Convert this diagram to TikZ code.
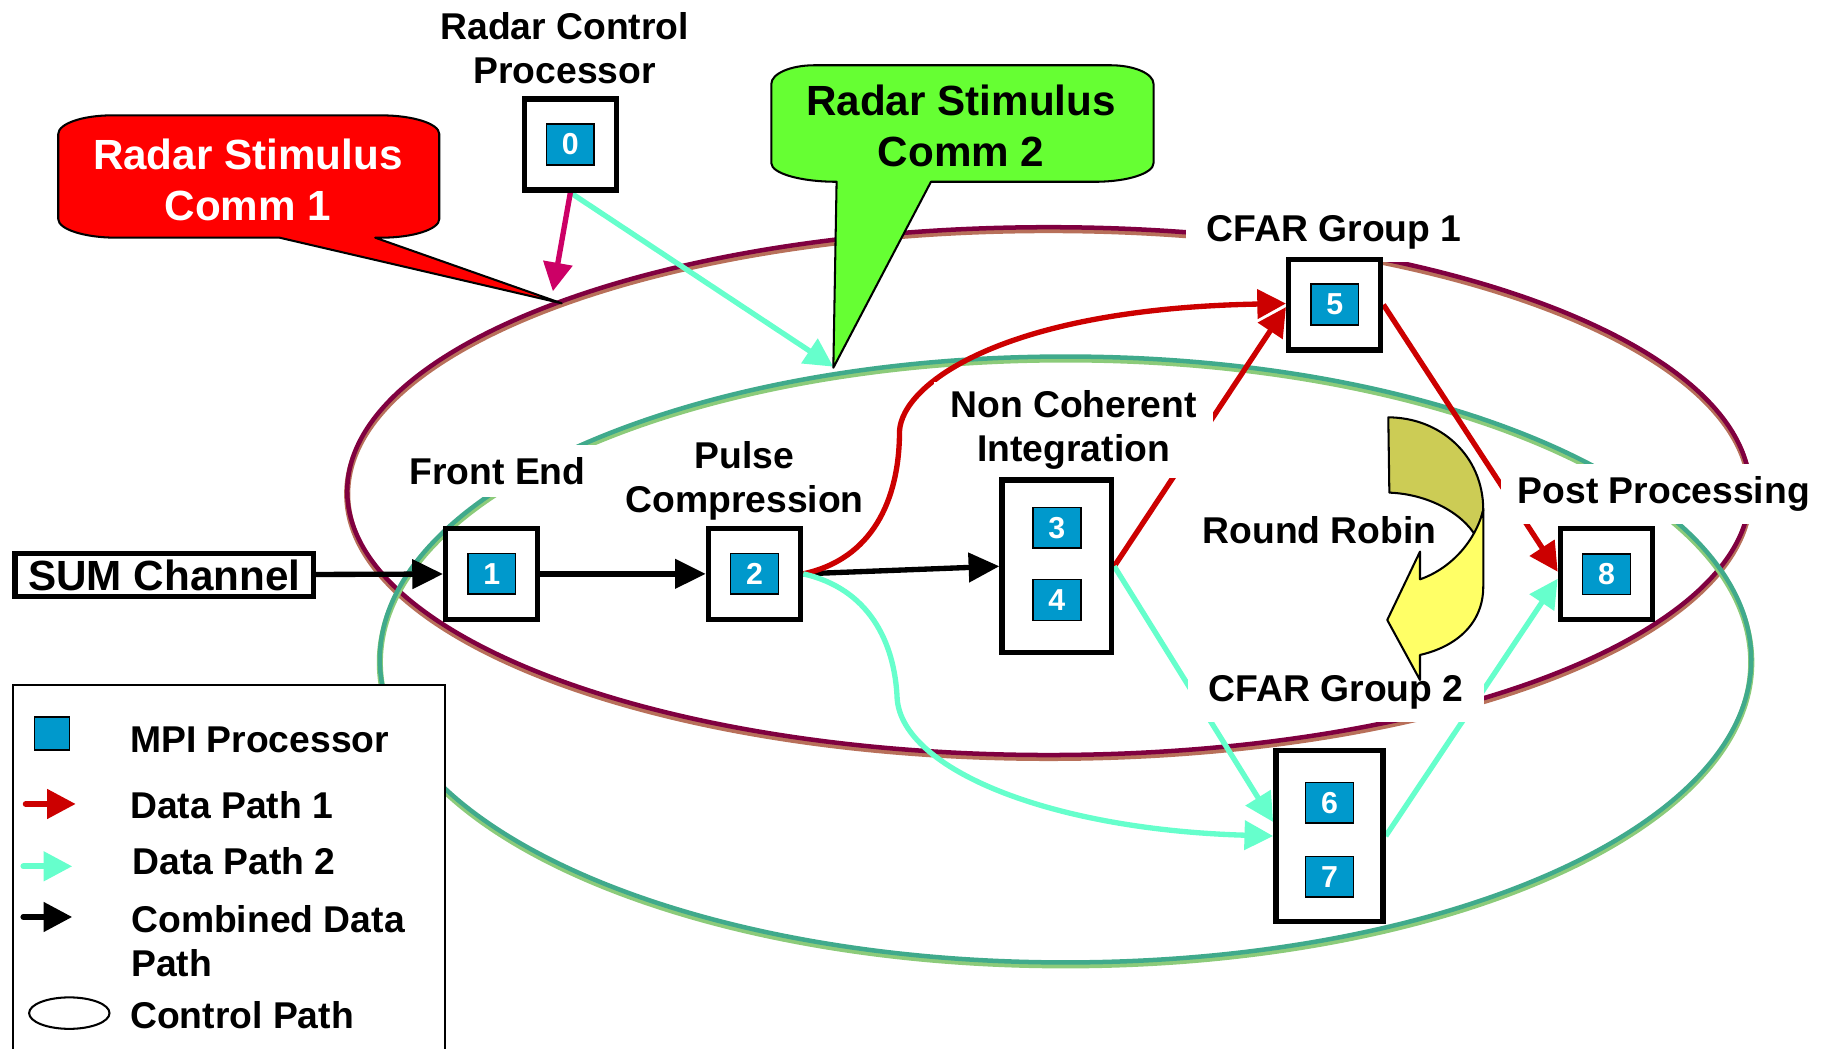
\documentclass[tikz,border=0pt]{standalone}
\usepackage{fontspec}
\setmainfont{Liberation Sans}
\usetikzlibrary{arrows.meta,positioning,calc}

\definecolor{mpiblue}{HTML}{0099CC}
\definecolor{pathred}{HTML}{CC0000}
\definecolor{pathcyan}{HTML}{66FFCC}
\definecolor{ctlpink}{HTML}{CC0066}
\definecolor{ringmaroon}{HTML}{800040}
\definecolor{ringbrown}{HTML}{B8705A}
\definecolor{ringteal}{HTML}{40AA8C}
\definecolor{ringgreen}{HTML}{8CCB7A}
\definecolor{stimred}{HTML}{FF0000}
\definecolor{stimgreen}{HTML}{66FF33}
\definecolor{rrolive}{HTML}{CCCC55}
\definecolor{rryellow}{HTML}{FFFF66}

\pgfdeclarelayer{rings}
\pgfdeclarelayer{paths}
\pgfsetlayers{rings,paths,main}

\begin{document}
\begin{tikzpicture}[x=0.01cm, y=-0.01cm,
    font=\bfseries\fontsize{9.1}{10.7}\selectfont,
    proc box/.style={rectangle, draw, line width=1.3pt, fill=white, minimum width=0.79cm, minimum height=0.78cm},
    mpi box/.style={rectangle, draw, line width=0.4pt, fill=mpiblue, text=white, inner sep=0pt, minimum width=0.41cm, minimum height=0.35cm, font=\bfseries\fontsize{7.4}{8}\selectfont},
    tag/.style={fill=white, align=center, inner xsep=4pt, inner ysep=3pt},
    legend text/.style={anchor=west, inner sep=0pt, align=left},
    big text/.style={align=center, inner sep=0pt, font=\bfseries\fontsize{10.3}{12.4}\selectfont},
    combined/.style={line width=1.3pt, -{Triangle[length=7.5pt,width=7pt]}},
    data one/.style={pathred, line width=1.3pt, -{Triangle[length=7pt,width=7pt]}},
    data two/.style={pathcyan, line width=1.3pt, -{Triangle[length=7pt,width=7pt]}},
    legend arrow/.style={line width=1.4pt, line cap=round, -{Triangle[length=7pt,width=7pt]}},
    callout/.style={draw=black, line width=0.5pt, line join=round}]

    \useasboundingbox (0,0) rectangle (1568,900);

    % control path rings
    \begin{pgfonlayer}{rings}
        \coordinate (ring1) at (900,421.5);
        \coordinate (ring2) at (914.5,566);
        \draw[ringbrown, line width=1.5pt] ($(ring1)+(0,2.5)$) ellipse [x radius=602, y radius=226.5];
        \draw[ringmaroon, line width=1.1pt] (ring1) ellipse [x radius=602, y radius=226.5];
        \draw[ringgreen, line width=1.5pt] ($(ring2)+(0,2.5)$) ellipse [x radius=588.5, y radius=260];
        \draw[ringteal, line width=1.1pt] (ring2) ellipse [x radius=588.5, y radius=260];
    \end{pgfonlayer}

    % labels
    \node[tag] (rcp) at (484.7,41.7) {Radar Control\\Processor};
    \node[tag] (fe) at (427,404) {Front End};
    \node[tag, inner xsep=2pt, inner ysep=1pt] (pc) at (639,412.5) {Pulse\\Compression};
    \node[tag, inner ysep=2pt] (nci) at (921.5,369) {Non Coherent\\Integration};
    \node[tag, inner xsep=5pt] (cg1) at (1145,199.4) {CFAR Group 1};
    \node[tag] (pp) at (1428,424) {Post Processing};
    \node[tag, inner xsep=5pt] (cg2) at (1146.8,594.2) {CFAR Group 2};
    \node[tag] (rr) at (1132.5,455) {Round Robin};

    % processors
    \node[draw, fill=white, line width=1.3pt, big text, minimum width=2.56cm, minimum height=0.37cm] (sum) at (141,493.5) {SUM Channel};
    \node[proc box] (b0) at (489.5,124) {};
    \node[proc box] (b1) at (422,492.5) {};
    \node[proc box] (b2) at (647.5,492.5) {};
    \node[proc box, minimum width=0.94cm, minimum height=1.48cm] (b34) at (907,486) {};
    \node[proc box] (b5) at (1145.5,261.5) {};
    \node[proc box, minimum width=0.92cm, minimum height=1.47cm] (b67) at (1141,717.5) {};
    \node[proc box] (b8) at (1378.7,492.7) {};
    \node[mpi box] (p0) at (b0) {0};
    \node[mpi box] (p1) at (b1) {1};
    \node[mpi box] (p2) at (b2) {2};
    \node[mpi box] (p3) at ($(b34)+(0,-33)$) {3};
    \node[mpi box] (p4) at ($(b34)+(0,29)$) {4};
    \node[mpi box] (p5) at (b5) {5};
    \node[mpi box] (p6) at ($(b67)+(0,-28.5)$) {6};
    \node[mpi box] (p7) at ($(b67)+(0,35)$) {7};
    \node[mpi box] (p8) at (b8) {8};

    \coordinate (stim1) at (474.5,250);
    \coordinate (stim2) at (715.2,314.7);

    % data paths
    \begin{pgfonlayer}{paths}
        \draw[combined] (sum) -- (b1);
        \draw[combined] (b1) -- (b2);
        \draw[combined] (b2.east) -- (b34.west);
        \draw[data one] (b2.east) .. controls (748,480) and (772,430) .. (772,370)
            .. controls (774,330) and (860,265) .. ($(b5.west)+(0,-1)$);
        \draw[data one] (b34.east) -- ($(b5.west)+(0,2)$);
        \draw[data one] (b5.east) -- ($(b8.west)+(0,-2)$);
        \draw[data two] (b2.east) .. controls (745,505) and (768,550) .. (770,600)
            .. controls (775,660) and (900,712) .. (b67.west);
        \draw[data two] (b34.east) -- ($(b67.west)+(0,-12)$);
        \draw[data two] (b67.east) -- ($(b8.west)+(0,4)$);
        \draw[data two] (b0.south) -- (stim2);
        \draw[ctlpink, line width=1.3pt, -{Triangle[length=7pt,width=7pt]}] (b0.south) -- (stim1);
    \end{pgfonlayer}

    % legend
    \draw[fill=white, line width=0.4pt] (11,902) -- (11,588) -- (382,588) -- (382,902);
    \node[mpi box, minimum width=0.30cm, minimum height=0.28cm] (lgmpi) at (44.5,629.5) {};
    \node[legend text] (lg1) at (111,635.1) {MPI Processor};
    \node[legend text] (lg2) at (111,691) {Data Path 1};
    \node[legend text] (lg3) at (113,739.5) {Data Path 2};
    \node[legend text] (lg4) at (112,807.5) {Combined Data\\Path};
    \node[legend text] (lg5) at (111,871) {Control Path};
    \draw[legend arrow, pathred] ($(lg2.west)+(-89,-1)$) -- ($(lg2.west)+(-46,-1)$);
    \draw[legend arrow, pathcyan] ($(lg3.west)+(-93,4)$) -- ($(lg3.west)+(-51,4)$);
    \draw[legend arrow, black] ($(lg4.west)+(-92,-20.5)$) -- ($(lg4.west)+(-50,-20.5)$);
    \draw[fill=white, line width=0.5pt] ($(lg5.west)+(-51.5,-1.5)$) ellipse [x radius=34.5, y radius=13.5];

    % stimulus callouts
    \draw[callout, fill=stimred] (96,99) -- (327,99) .. controls (354.5,99) and (377,106.2) .. (377,115)
        -- (377,188) .. controls (377,196.8) and (354.5,204) .. (327,204) -- (322,204)
        -- (482,260.3) -- (240,204) -- (100,204) .. controls (72.5,204) and (50,196.8) .. (50,188)
        -- (50,115) .. controls (50,106.2) and (70.7,99) .. (96,99) -- cycle;
    \node[big text, text=white] (rsc1) at (212.7,154.5) {Radar Stimulus\\Comm 1};
    \draw[callout, fill=stimgreen] (699,56) -- (953,56) .. controls (973.4,56) and (990,63.2) .. (990,72)
        -- (990,140) .. controls (990,148.8) and (967.5,156) .. (940,156) -- (799,156)
        -- (715.2,315.6) -- (718,156) .. controls (687,156) and (662,148.8) .. (662,140)
        -- (662,72) .. controls (662,63.2) and (678.6,56) .. (699,56) -- cycle;
    \node[big text] (rsc2) at (824.8,108.2) {Radar Stimulus\\Comm 2};

    % round robin arrow
    \draw[callout, fill=rrolive] (1191.5,358.2) .. controls (1235,358.2) and (1273,390) .. (1273,437.7)
        -- (1266.8,460.6) .. controls (1255,440) and (1225,424) .. (1192.4,422.8) -- cycle;
    \draw[callout, fill=rryellow] (1273,437.7) -- (1273,503.5) .. controls (1273,535) and (1250,555) .. (1218.7,562.1)
        -- (1218.7,583.6) -- (1190.6,532.1) -- (1218.7,473.4) -- (1218.7,497.2)
        .. controls (1245,488) and (1266,465) .. (1273,437.7) -- cycle;
\end{tikzpicture}
\end{document}
